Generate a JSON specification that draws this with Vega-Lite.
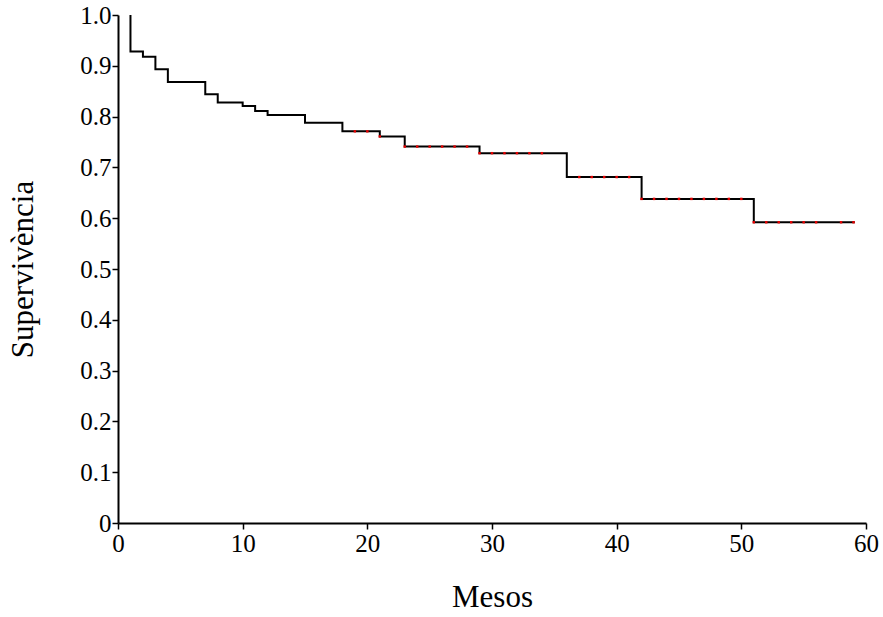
{
  "$schema": "https://vega.github.io/schema/vega-lite/v6.json",
  "width": 748,
  "height": 508,
  "autosize": {"type": "none"},
  "padding": {"left": 118, "top": 15, "right": 17, "bottom": 94},
  "background": "white",
  "config": {
    "view": {"stroke": null},
    "axis": {
      "labelFont": "Liberation Serif",
      "titleFont": "Liberation Serif",
      "labelColor": "black",
      "titleColor": "black",
      "domainColor": "black",
      "tickColor": "black",
      "grid": false,
      "labelFontSize": 25,
      "titleFontSize": 31,
      "titleFontWeight": "normal",
      "domainWidth": 2,
      "tickWidth": 1.5,
      "tickSize": 6
    }
  },
  "datasets": {
    "curve": [
      {"mes": 1, "s": 1.0},
      {"mes": 1, "s": 0.928},
      {"mes": 2, "s": 0.918},
      {"mes": 3, "s": 0.893},
      {"mes": 4, "s": 0.868},
      {"mes": 7, "s": 0.844},
      {"mes": 8, "s": 0.828},
      {"mes": 10, "s": 0.821},
      {"mes": 11, "s": 0.811},
      {"mes": 12, "s": 0.803},
      {"mes": 15, "s": 0.788},
      {"mes": 18, "s": 0.771},
      {"mes": 21, "s": 0.761},
      {"mes": 23, "s": 0.741},
      {"mes": 29, "s": 0.728},
      {"mes": 36, "s": 0.681},
      {"mes": 42, "s": 0.638},
      {"mes": 51, "s": 0.592},
      {"mes": 59.1, "s": 0.592}
    ],
    "cens": [
      {"mes": 19, "s": 0.771}, {"mes": 20, "s": 0.771},
      {"mes": 21, "s": 0.761},
      {"mes": 23, "s": 0.741}, {"mes": 24, "s": 0.741}, {"mes": 25, "s": 0.741}, {"mes": 26, "s": 0.741}, {"mes": 27, "s": 0.741}, {"mes": 28, "s": 0.741},
      {"mes": 29, "s": 0.728}, {"mes": 30, "s": 0.728}, {"mes": 31, "s": 0.728}, {"mes": 32, "s": 0.728}, {"mes": 33, "s": 0.728}, {"mes": 34, "s": 0.728},
      {"mes": 37, "s": 0.681}, {"mes": 38, "s": 0.681}, {"mes": 39, "s": 0.681}, {"mes": 40, "s": 0.681}, {"mes": 41, "s": 0.681},
      {"mes": 42, "s": 0.638}, {"mes": 43, "s": 0.638}, {"mes": 44, "s": 0.638}, {"mes": 45, "s": 0.638}, {"mes": 46, "s": 0.638}, {"mes": 47, "s": 0.638}, {"mes": 48, "s": 0.638}, {"mes": 49, "s": 0.638}, {"mes": 50, "s": 0.638},
      {"mes": 51, "s": 0.592}, {"mes": 52, "s": 0.592}, {"mes": 53, "s": 0.592}, {"mes": 54, "s": 0.592}, {"mes": 55, "s": 0.592}, {"mes": 56, "s": 0.592}, {"mes": 58, "s": 0.592}, {"mes": 59, "s": 0.592}
    ]
  },
  "layer": [
    {
      "data": {"name": "curve"},
      "mark": {"type": "line", "interpolate": "step-after", "color": "black", "strokeWidth": 2},
      "encoding": {
        "x": {
          "field": "mes", "type": "quantitative",
          "scale": {"domain": [0, 60], "nice": false},
          "axis": {"title": "Mesos", "values": [0, 10, 20, 30, 40, 50, 60], "labelFlush": false, "labelPadding": 2, "titlePadding": 26}
        },
        "y": {
          "field": "s", "type": "quantitative",
          "scale": {"domain": [0, 1], "nice": false},
          "axis": {
            "title": "Supervivència",
            "values": [0, 0.1, 0.2, 0.3, 0.4, 0.5, 0.6, 0.7, 0.8, 0.9, 1.0],
            "labelExpr": "datum.value == 0 ? '0' : format(datum.value, '.1f')",
            "labelPadding": 1,
            "titlePadding": 40
          }
        }
      }
    },
    {
      "data": {"name": "cens"},
      "mark": {"type": "point", "shape": "square", "filled": true, "color": "#e60000", "size": 6, "opacity": 1},
      "encoding": {
        "x": {"field": "mes", "type": "quantitative"},
        "y": {"field": "s", "type": "quantitative"}
      }
    }
  ]
}
